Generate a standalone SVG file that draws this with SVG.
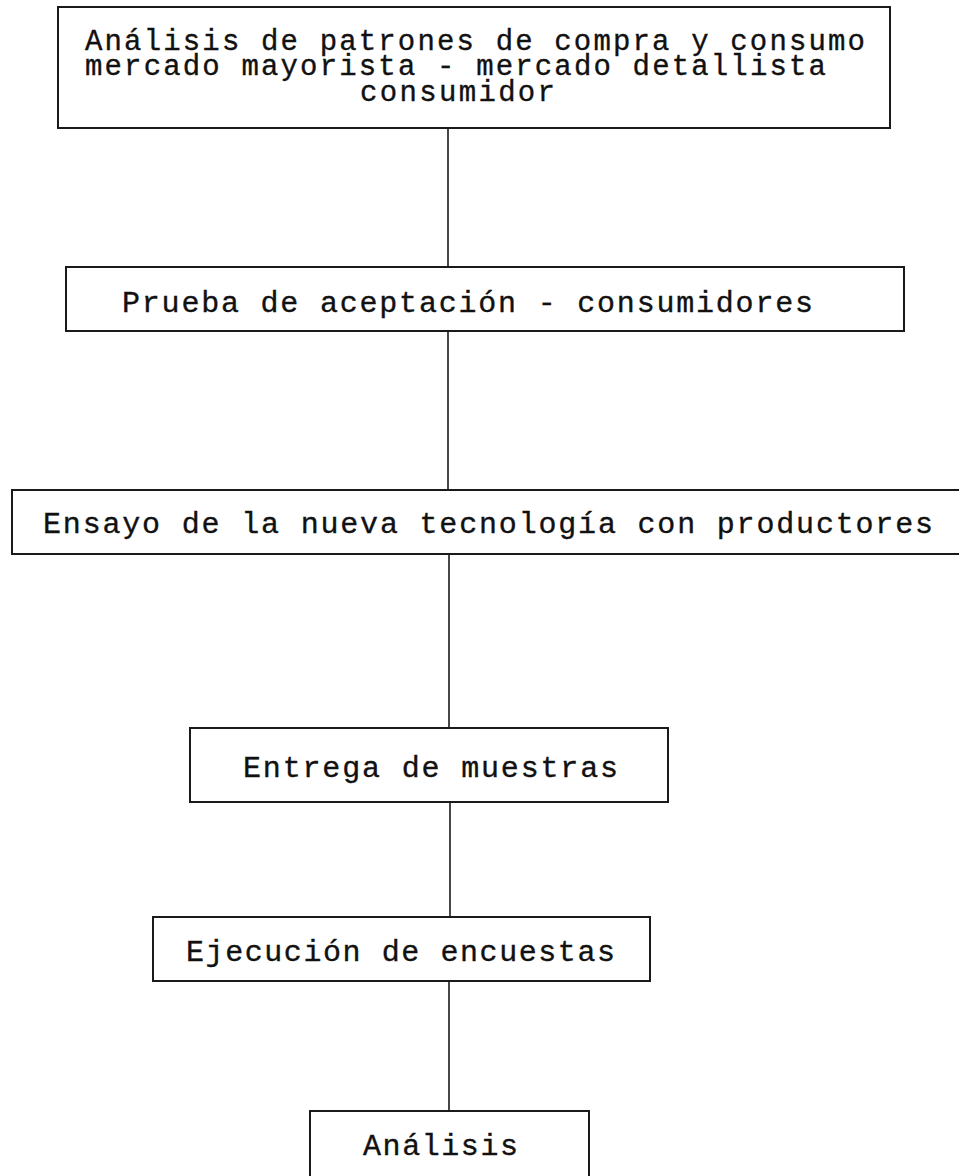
<svg xmlns="http://www.w3.org/2000/svg" width="959" height="1176" viewBox="0 0 959 1176">
<style>
.box{fill:#fff;stroke:#1a1a1a;stroke-width:2}
.con{stroke:#1a1a1a;stroke-width:1.6;fill:none}
text{font-family:"Liberation Mono","Courier New",monospace;fill:#111;font-size:30px;stroke:#111;stroke-width:0.35}
.t1{font-size:29px}
</style>
<rect width="959" height="1176" fill="#fff"/>
<g id="connectors">
<line class="con" x1="448" y1="128" x2="448" y2="267"/>
<line class="con" x1="448" y1="331" x2="448" y2="490"/>
<line class="con" x1="449" y1="554" x2="449" y2="728"/>
<line class="con" x1="450" y1="802" x2="450" y2="917"/>
<line class="con" x1="449" y1="981" x2="449" y2="1111"/>
</g>
<g id="n1">
<rect class="box" x="58" y="7" width="832" height="121"/>
<text class="t1" x="85" y="50" textLength="780" lengthAdjust="spacing">Análisis de patrones de compra y consumo</text>
<text class="t1" x="85" y="75" textLength="741" lengthAdjust="spacing">mercado mayorista - mercado detallista</text>
<text class="t1" x="360" y="101" textLength="195" lengthAdjust="spacing">consumidor</text>
</g>
<g id="n2">
<rect class="box" x="66" y="267" width="838" height="64"/>
<text x="122" y="312" textLength="691" lengthAdjust="spacing">Prueba de aceptación - consumidores</text>
</g>
<g id="n3">
<rect class="box" x="12" y="490" width="960" height="64"/>
<text x="43" y="533" textLength="890" lengthAdjust="spacing">Ensayo de la nueva tecnología con productores</text>
</g>
<g id="n4">
<rect class="box" x="190" y="728" width="478" height="74"/>
<text x="243" y="777" textLength="375" lengthAdjust="spacing">Entrega de muestras</text>
</g>
<g id="n5">
<rect class="box" x="153" y="917" width="497" height="64"/>
<text x="186" y="961" textLength="429" lengthAdjust="spacing">Ejecución de encuestas</text>
</g>
<g id="n6">
<rect class="box" x="310" y="1111" width="279" height="80"/>
<text x="363" y="1155" textLength="155" lengthAdjust="spacing">Análisis</text>
</g>
</svg>
